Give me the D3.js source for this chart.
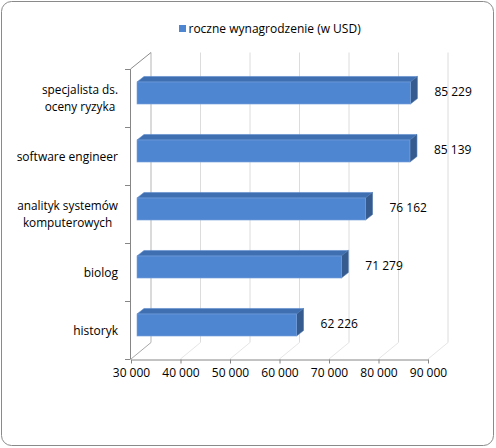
<!DOCTYPE html>
<html><head><meta charset="utf-8">
<script src="https://cdn.jsdelivr.net/npm/d3@7"></script>
<style>
html,body{margin:0;padding:0;background:#fff;}
text{font-family:"Open Sans",sans-serif;font-size:12px;fill:#000;}
</style></head>
<body>
<svg id="chart" width="496" height="448"></svg>
<script>
const categories = ["specjalista ds.\noceny ryzyka", "software engineer", "analityk systemów\nkomputerowych", "biolog", "historyk"];
const values = [85229, 85139, 76162, 71279, 62226];
const xTicks = [30000, 40000, 50000, 60000, 70000, 80000, 90000];
const seriesName = "roczne wynagrodzenie (w USD)";

const svg = d3.select("#chart");
const loc = d3.formatLocale({decimal: ",", thousands: " ", grouping: [3], currency: ["", ""]});
const fmt = loc.format(",d");

// outer border
svg.append("rect").attr("x", 1.5).attr("y", 1.5).attr("width", 492).attr("height", 444)
  .attr("rx", 10).attr("fill", "#fff").attr("stroke", "#8a8a8a").attr("stroke-width", 1);

const x = d3.scaleLinear().domain([30000, 90000]).range([131, 428]);
const yOuter = d3.scaleBand().domain(categories).range([69, 359]);
const y = d3.scaleBand().domain(categories).range([69, 359]).paddingInner(0.62).paddingOuter(0.31);

const DX = 20, DY = -16.5;          // wall depth
const BX = 6, BY = -5;              // bar front-plane offset
const BDX = 7, BDY = -5.5;          // bar depth
const yTop = 69, yBot = 359;

// back wall gridlines
const g = svg.append("g");
xTicks.forEach((t, i) => {
  g.append("line").attr("x1", x(t) + DX).attr("x2", x(t) + DX)
    .attr("y1", yTop + DY).attr("y2", yBot + DY)
    .attr("stroke", i === 0 ? "#b5b5b5" : "#dcdcdc").attr("stroke-width", 1);
  // floor lines
  g.append("line").attr("x1", x(t)).attr("y1", yBot)
    .attr("x2", x(t) + DX).attr("y2", yBot + DY)
    .attr("stroke", i === 0 ? "#a8a8a8" : "#e6e6e6").attr("stroke-width", 1);
});
// side wall top edge
g.append("line").attr("x1", x(30000) - 0.5).attr("y1", yTop)
  .attr("x2", x(30000) + DX).attr("y2", yTop + DY)
  .attr("stroke", "#8c8c8c");

// bars
const bars = svg.append("g");
categories.forEach((c, i) => {
  const v = values[i];
  const fx0 = x(30000) + BX, fx1 = x(v) + BX;
  const fy0 = y(c) + BY, fy1 = fy0 + y.bandwidth();
  bars.append("polygon")
    .attr("points", [[fx0, fy0], [fx1, fy0], [fx1 + BDX, fy0 + BDY], [fx0 + BDX, fy0 + BDY]].join(" "))
    .attr("fill", "#3f6fb0").attr("stroke", "#5b8bd0").attr("stroke-width", 0.6);
  bars.append("polygon")
    .attr("points", [[fx1, fy0], [fx1 + BDX, fy0 + BDY], [fx1 + BDX, fy1 + BDY], [fx1, fy1]].join(" "))
    .attr("fill", "#365b8f").attr("stroke", "#4a72aa").attr("stroke-width", 0.6);
  bars.append("rect").attr("x", fx0).attr("y", fy0).attr("width", fx1 - fx0).attr("height", fy1 - fy0)
    .attr("fill", "#4f86d2").attr("stroke", "#7aa3dc").attr("stroke-width", 0.6);
  bars.append("text").attr("x", fx1 + 24).attr("y", (fy0 + fy1) / 2 - 1.5).attr("dy", "0.35em")
    .text(fmt(v));
});

// left axis line + ticks
const ax = svg.append("g");
ax.append("line").attr("x1", x(30000) - 0.5).attr("x2", x(30000) - 0.5).attr("y1", yTop).attr("y2", yBot)
  .attr("stroke", "#868686");
const bounds = categories.map(c => yOuter(c)).concat([yBot]);
bounds.forEach(b => {
  ax.append("line").attr("x1", x(30000) - 6).attr("x2", x(30000) - 0.5).attr("y1", b + 0.5).attr("y2", b + 0.5)
    .attr("stroke", "#868686");
});

// category labels
categories.forEach(c => {
  const lines = c.split("\n");
  const multi = lines.length > 1;
  const cy = yOuter(c) + yOuter.bandwidth() / 2;
  const lh = 16.2;
  const t = ax.append("text").attr("text-anchor", "middle").style("font-size", multi ? "11.8px" : "12px");
  const tsp = lines.map((l, k) => t.append("tspan").attr("y", cy + (k - (lines.length - 1) / 2) * lh + 4.5).text(l));
  let maxW = 0;
  tsp.forEach(s => { maxW = Math.max(maxW, s.node().getComputedTextLength()); });
  tsp.forEach(s => s.attr("x", 118 - maxW / 2));
});

// bottom axis
const bottom = svg.append("g").attr("transform", `translate(0,${yBot + 0.5})`)
  .call(d3.axisBottom(x).tickValues(xTicks).tickSize(4).tickSizeOuter(0).tickPadding(5).tickFormat(fmt));
bottom.select(".domain").attr("stroke", "#868686");
bottom.selectAll(".tick line").attr("stroke", "#868686");
bottom.selectAll(".tick text").attr("font-family", "Open Sans, sans-serif").attr("font-size", 12).attr("fill", "#000");

// legend
const leg = svg.append("g");
leg.append("rect").attr("x", 179).attr("y", 25).attr("width", 7).attr("height", 7).attr("fill", "#4f86d2");
leg.append("text").attr("x", 188.5).attr("y", 32.5).text(seriesName);
</script>
</body></html>
